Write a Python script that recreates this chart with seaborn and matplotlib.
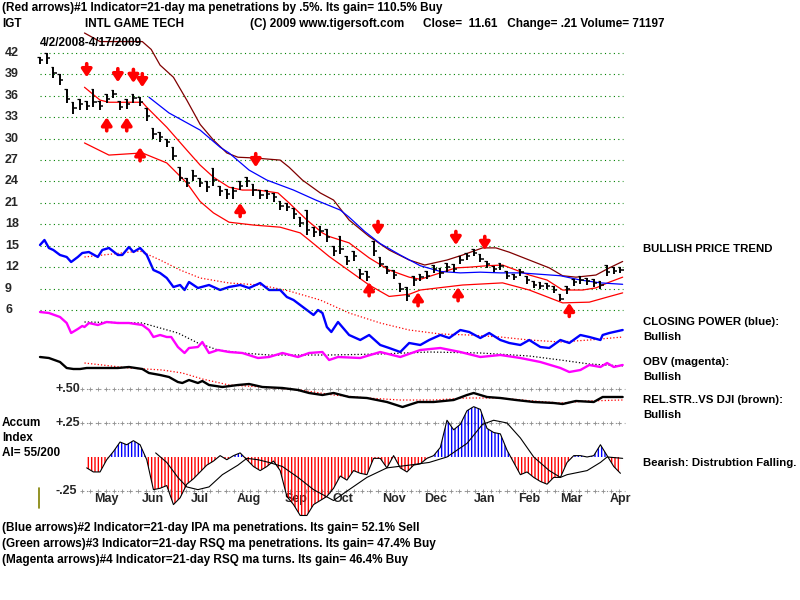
# TigerSoft style chart: IGT price bars, bands, CP / OBV / RS lines and Accum Index
import numpy as np
import matplotlib
matplotlib.use("Agg")
import matplotlib.pyplot as plt
import matplotlib.transforms as mtransforms
import seaborn as sns

# -------------------------------------------------------------------
# data (trading-day index from 4/2/2008)
# -------------------------------------------------------------------
bar_day = list(range(0, 262, 3))
close = [41.0, 41.3, 39.2, 38.2, 35.5, 34.3, 34.8, 34.6, 35.2, 34.6,
         35.6, 36.3, 34.5, 34.8, 35.7, 35.2, 33.2, 30.6, 30.2, 29.5,
         27.6, 24.5, 23.8, 24.8, 23.8, 23.2, 24.2, 22.6, 22.3, 22.6,
         23.4, 24.0, 22.8, 22.1, 22.2, 21.8, 20.6, 20.4, 19.5, 18.2,
         17.2, 16.9, 17.1, 16.2, 14.2, 14.6, 12.9, 13.6, 11.0, 10.6,
         14.2, 12.5, 11.5, 10.9, 9.0, 8.0, 10.2, 10.6, 10.8, 11.8,
         11.2, 12.0, 11.8, 13.0, 13.5, 14.0, 13.2, 12.4, 11.8, 12.1,
         10.8, 10.6, 11.3, 10.2, 9.5, 9.4, 9.3, 8.8, 7.6, 8.9,
         9.9, 10.2, 10.0, 9.8, 9.5, 11.3, 11.5, 11.6]
high = [41.5, 42.0, 40.0, 39.0, 37.0, 35.2, 35.5, 35.3, 37.0, 35.3,
        36.2, 36.8, 35.3, 35.5, 36.2, 35.8, 34.3, 31.5, 31.0, 30.0,
        28.8, 26.0, 24.5, 25.6, 24.5, 24.0, 25.9, 23.4, 23.0, 23.2,
        24.0, 24.6, 23.6, 22.8, 22.8, 22.4, 21.3, 21.0, 20.3, 19.0,
        20.0, 17.6, 17.8, 17.3, 15.0, 16.3, 13.6, 14.2, 11.8, 11.4,
        15.6, 13.4, 12.2, 11.6, 9.8, 9.2, 10.8, 11.1, 11.4, 12.3,
        11.9, 12.6, 12.4, 13.5, 14.0, 14.5, 13.9, 12.9, 12.2, 12.6,
        11.4, 11.1, 11.8, 10.8, 10.0, 9.9, 9.8, 9.3, 8.3, 9.4,
        10.4, 10.7, 10.5, 10.3, 10.0, 12.3, 12.0, 12.0]
low = [40.5, 40.5, 38.5, 37.5, 35.0, 33.5, 34.0, 34.0, 34.5, 34.0,
       35.0, 35.7, 34.0, 34.2, 35.0, 34.6, 32.5, 30.0, 29.5, 28.8,
       27.0, 24.0, 23.2, 24.0, 23.2, 22.5, 23.3, 22.0, 21.6, 21.6,
       22.8, 23.2, 22.0, 21.5, 21.6, 21.1, 20.0, 19.8, 18.8, 17.6,
       16.5, 16.2, 16.4, 15.5, 13.5, 13.8, 12.3, 12.9, 10.4, 10.0,
       13.5, 12.0, 11.0, 10.4, 8.5, 7.3, 9.4, 10.0, 10.3, 11.2,
       10.5, 11.3, 11.3, 12.4, 13.0, 13.6, 12.7, 11.9, 11.3, 11.6,
       10.3, 10.2, 10.7, 9.7, 9.1, 9.0, 8.9, 8.4, 7.2, 8.3,
       9.3, 9.7, 9.5, 9.2, 9.0, 10.7, 11.0, 11.2]

# moving average (blue) and bands
ma_day = [49, 58, 72, 81, 85, 94, 102, 114, 124, 135, 139, 146, 153, 162,
          171, 180, 189, 198, 207, 216, 225, 234, 243, 252, 262]
ma_val = [35.8, 33.6, 31.2, 28.8, 28.0, 25.6, 24.2, 22.8, 21.4, 20.0, 19.0,
          17.0, 15.3, 13.7, 12.2, 11.4, 11.2, 11.3, 11.2, 11.2, 11.0, 10.8,
          10.2, 9.8, 9.6]
upper_day = [20, 27, 46, 50, 54, 60, 66, 72, 78, 84, 89, 96, 108, 112, 118,
             126, 132, 139, 148, 157, 166, 173, 183, 190, 199, 205, 211, 220,
             229, 235, 241, 250, 256, 262]
upper_val = [44.8, 43.6, 43.6, 42.5, 40.3, 38.6, 35.4, 32.0, 29.8, 28.0, 27.4,
             27.3, 27.0, 26.0, 24.2, 22.4, 21.4, 18.6, 16.3, 14.4, 13.0, 12.3,
             13.0, 13.7, 14.7, 14.7, 14.1, 13.0, 11.9, 10.8, 10.6, 10.9, 11.9,
             12.8]
mid_day = [20, 27, 31, 46, 48, 57, 66, 72, 78, 85, 91, 98, 107, 112, 120,
           127, 130, 139, 148, 157, 166, 171, 180, 187, 193, 201, 208, 214,
           220, 228, 235, 244, 250, 256, 262]
mid_val = [37.2, 35.4, 35.1, 35.1, 34.4, 31.6, 28.4, 26.3, 24.6, 23.2, 22.8,
           22.8, 22.4, 21.0, 18.6, 16.8, 16.3, 15.4, 13.3, 11.6, 10.6, 10.3,
           11.2, 11.9, 12.0, 12.2, 12.3, 11.6, 10.9, 10.2, 8.8, 8.8, 9.1, 9.9,
           10.6]
lower_day = [20, 31, 46, 57, 66, 72, 78, 85, 96, 108, 117, 121, 130, 139,
             148, 157, 166, 171, 190, 208, 220, 235, 247, 255, 262]
lower_val = [29.4, 27.7, 28.0, 26.6, 23.8, 21.2, 19.6, 18.3, 17.9, 17.6, 16.8,
             15.8, 13.5, 11.5, 9.5, 7.9, 8.2, 8.8, 9.5, 9.8, 8.8, 7.0, 7.1,
             7.8, 8.4]

# signal arrows (red): sells point down, buys point up
sell_day = [21, 35, 42, 46, 97, 152, 187, 200]
sell_tip = [38.6, 37.9, 37.8, 37.2, 26.0, 16.5, 15.1, 14.4]
buy_day = [30, 39, 45, 90, 148, 170, 188, 238]
buy_tip = [33.0, 33.0, 28.8, 21.0, 9.9, 8.5, 9.2, 7.0]

# closing power (blue) and its ma, relative units
cp_day = [0, 2, 4, 6, 9, 12, 14, 17, 19, 22, 26, 28, 31, 35, 37, 40, 42, 45,
          48, 51, 54, 57, 60, 63, 65, 67, 71, 76, 81, 85, 90, 94, 99, 103,
          108, 111, 114, 117, 120, 123, 125, 127, 129, 131, 134, 139, 144,
          148, 153, 157, 162, 166, 171, 175, 180, 184, 189, 193, 198, 202,
          207, 211, 216, 220, 225, 229, 234, 238, 243, 247, 252, 253, 256, 262]
cp_val = [87.5, 90, 86, 85, 82.5, 81.5, 79, 81.5, 83.5, 84, 81.5, 85, 86,
          82.5, 82.5, 86.5, 84, 86, 82.5, 75, 73.5, 71, 66.5, 67.5, 65, 69,
          66, 67.5, 65, 66.5, 67.5, 66, 68.5, 65, 65, 61.5, 60, 57.5, 55,
          52.5, 55, 53.5, 46.5, 44, 49, 42.5, 40, 42.5, 37.5, 36, 34, 38.5,
          37.5, 40, 42.5, 41, 45, 44, 41, 43.5, 40, 38.5, 37.5, 40, 36.5, 36,
          40, 38.5, 42.5, 41.5, 40, 42.5, 43.5, 45]
cp_ma_day = [20, 45, 54, 63, 72, 85, 99, 112, 126, 139, 153, 166, 180, 193,
             207, 220, 234, 247, 262]
cp_ma_val = [81.5, 84.5, 80, 75, 71, 68.5, 67.5, 64.5, 60, 53.5, 48.5, 45,
             43, 42.5, 41.5, 40, 39, 40, 41.5]

# on balance volume (magenta) and its ma
obv_day = [0, 4, 9, 12, 14, 17, 19, 20, 22, 26, 30, 35, 40, 46, 49, 51, 54,
           57, 59, 62, 65, 67, 71, 73, 76, 80, 85, 91, 98, 103, 109, 116,
           121, 127, 130, 134, 144, 153, 162, 171, 180, 189, 198, 207, 216,
           225, 234, 238, 243, 247, 252, 255, 258, 262]
obv_val = [54, 53.5, 51.5, 48.5, 43.5, 45.5, 47, 46.5, 48.5, 47.5, 49, 48.5,
           48.5, 47.5, 45, 41.5, 42.5, 41.5, 41.5, 36.5, 33.5, 36, 36.5, 39,
           33.5, 35, 34, 33.5, 31, 31.5, 33.5, 31.5, 33.5, 34, 30, 31.5, 31,
           34, 31.5, 35, 36, 34, 31.5, 32.5, 31, 29, 26, 24, 25, 27.5, 26.5,
           28.5, 26.5, 27.5]
obv_ma_day = [20, 46, 62, 71, 80, 91, 103, 130, 153, 175, 198, 220, 234, 247,
              262]
obv_ma_val = [49, 48.5, 43.5, 38.5, 35, 33.5, 32.5, 32.5, 33, 34, 33.5, 32,
              30, 28, 27]

# relative strength vs DJI (thick black) and its ma
rs_day = [0, 4, 9, 12, 15, 18, 21, 27, 35, 40, 46, 49, 54, 58, 62, 64, 67,
          71, 73, 76, 82, 89, 94, 100, 109, 116, 121, 127, 132, 139, 147,
          156, 163, 170, 177, 186, 192, 195, 201, 207, 214, 222, 231, 235,
          241, 249, 253, 258, 262]
rs_val = [31.5, 31, 29, 26, 25.5, 25.5, 26, 26, 26, 26.5, 25.5, 23.5, 22.5,
          21.5, 19, 18.5, 20, 18.5, 19.5, 17.5, 16.5, 17.5, 18, 16.5, 16, 15,
          13.5, 12.5, 13.5, 11.5, 11, 9, 6.5, 9, 9, 10, 12.5, 13.5, 11.5, 11,
          10, 9, 8.5, 8, 9.5, 9, 11.5, 11.5, 11.5]
rs_ma_day = [20, 40, 55, 64, 73, 85, 100, 117, 132, 147, 162, 177, 192, 207,
             222, 234, 246, 262]
rs_ma_val = [28.5, 26, 25, 23.5, 20.5, 17.5, 16.5, 15, 12.5, 11, 10, 10, 11,
             11, 9.5, 8.5, 9.5, 10]

# accumulation index (starts 5/1/2008) and its ma
ai_day = bar_day[7:]
ai_val = [-0.08, -0.11, -0.11, -0.02, 0.04, 0.11, 0.09, 0.12, 0.09, -0.02,
          -0.24, -0.23, -0.21, -0.35, -0.30, -0.20, -0.16, -0.11, -0.06, -0.03,
          0.01, -0.02, 0.01, 0.03, -0.02, -0.07, -0.10, -0.07, -0.03, -0.10,
          -0.29, -0.35, -0.43, -0.43, -0.35, -0.32, -0.29, -0.23, -0.14, -0.17,
          -0.10, -0.12, -0.13, -0.01, -0.01, -0.08, 0.01, -0.08, -0.11, -0.06,
          -0.05, -0.01, 0.01, 0.07, 0.27, 0.20, 0.24, 0.34, 0.37, 0.35,
          0.21, 0.18, 0.17, 0.05, -0.04, -0.13, -0.11, -0.15, -0.18, -0.20,
          -0.15, -0.15, -0.04, 0.01, 0.01, 0.00, 0.01, 0.09, 0.01, -0.07,
          -0.12]
ai_ma_day = [52, 57, 62, 66, 71, 76, 82, 89, 93, 98, 103, 109, 116, 123, 132,
             139, 147, 156, 166, 175, 183, 192, 199, 204, 210, 216, 222, 229,
             234, 237, 246, 252, 255, 262]
ai_ma_val = [0.03, -0.04, -0.15, -0.22, -0.24, -0.22, -0.13, -0.06, -0.01,
             -0.02, -0.04, -0.07, -0.15, -0.24, -0.32, -0.24, -0.15, -0.08,
             -0.06, -0.04, 0.0, 0.10, 0.24, 0.27, 0.25, 0.14, 0.0, -0.10,
             -0.15, -0.13, -0.10, -0.04, 0.0, -0.01]

months = ["May", "Jun", "Jul", "Aug", "Sep", "Oct", "Nov", "Dec", "Jan",
          "Feb", "Mar", "Apr"]
month_start = [21, 42, 63, 85, 106, 127, 150, 169, 191, 211, 230, 252]
price_ticks = [42, 39, 36, 33, 30, 27, 24, 21, 18, 15, 12, 9, 6]
ai_levels = [0.50, 0.25, -0.25]
ai_labels = ["+.50", "+.25", "-.25"]


# -------------------------------------------------------------------
# helpers
# -------------------------------------------------------------------
def px(x, y):
    return x / 800, 1 - y / 600


def line(ax, x, y, **kw):
    sns.lineplot(x=x, y=y, ax=ax, estimator=None, sort=False, legend=False, **kw)


def main():
    sns.set_theme(style="white")
    plt.rcParams['font.family'] = ['Liberation Sans', 'DejaVu Sans']
    plt.rcParams['hatch.linewidth'] = 1.0
    bold = dict(weight='bold', color='black', size=8.5)

    fig = plt.figure(figsize=(8, 6), dpi=100)
    fig.patch.set_facecolor('white')
    left, width = 36 / 800, 592 / 800
    xlim = (-1.8, 264.4)

    ax_a = fig.add_axes([left, 1 - 525 / 600, width, 145 / 600])
    ax_i = fig.add_axes([left, 1 - 420 / 600, width, 190 / 600])
    ax_p = fig.add_axes([left, 1 - 318 / 600, width, 288 / 600])
    for ax in (ax_a, ax_i, ax_p):
        ax.set_xlim(*xlim)
        ax.set_facecolor('none')
        ax.axis('off')
    ax_p.set_ylim(4.88, 45.22)
    ax_i.set_ylim(0, 95)
    ax_a.set_ylim(-0.50, 0.566)

    # price grid + labels
    ax_p.hlines(price_ticks, 0, 262, colors='#008000', linestyles=(0, (1, 3)), lw=0.8)
    tr = mtransforms.blended_transform_factory(fig.transFigure, ax_p.transData)
    for v in price_ticks:
        ax_p.text(5 / 800, v, str(v), transform=tr, va='center', ha='left',
                  weight='bold', size=9)

    # bands and ma
    line(ax_p, upper_day, upper_val, color='#800000', linewidth=0.9)
    line(ax_p, lower_day, lower_val, color='#ff0000', linewidth=0.9)
    line(ax_p, mid_day, mid_val, color='#ff0000', linewidth=0.9)
    line(ax_p, ma_day, ma_val, color='#0000ff', linewidth=0.9)

    # price bars
    ax_p.vlines(bar_day, low, high, colors='black', lw=1.4)
    ax_p.hlines(close, bar_day, [d + 1.5 for d in bar_day], colors='black', lw=1.1)
    ax_p.hlines(high, [d - 1.2 for d in bar_day], bar_day, colors='black', lw=0.9)

    arrow = dict(arrowstyle='-|>,head_width=0.3,head_length=0.45', color='red',
                 lw=2.6, shrinkA=0, shrinkB=0, mutation_scale=10)
    for d, p in zip(sell_day, sell_tip):
        ax_p.annotate('', xy=(d, p), xytext=(d, p + 1.9), arrowprops=arrow)
    for d, p in zip(buy_day, buy_tip):
        ax_p.annotate('', xy=(d, p), xytext=(d, p - 1.9), arrowprops=arrow)

    # indicators
    line(ax_i, cp_ma_day, cp_ma_val, color='#ff0000', linewidth=0.9, linestyle=':')
    line(ax_i, cp_day, cp_val, color='#0000ff', linewidth=1.7)
    line(ax_i, obv_ma_day, obv_ma_val, color='black', linewidth=0.9, linestyle=':')
    line(ax_i, obv_day, obv_val, color='#ff00ff', linewidth=1.7)
    line(ax_i, rs_ma_day, rs_ma_val, color='#ff0000', linewidth=0.9, linestyle=':')
    line(ax_i, rs_day, rs_val, color='black', linewidth=1.7)

    # accumulation index
    tra = mtransforms.blended_transform_factory(fig.transFigure, ax_a.transData)
    for lev, lab in zip(ai_levels, ai_labels):
        ax_a.hlines(lev, 19, 263, colors='#909090', linestyles=(0, (1, 3)), lw=0.8)
        marks = np.arange(19, 263, 3.6)
        ax_a.plot(marks, [lev] * len(marks), '+', ms=3, mew=0.6, color='#909090')
        ax_a.text(55 / 800, lev, lab, transform=tra, va='center', ha='left',
                  weight='bold', size=9)
    for m, d in zip(months, month_start):
        ax_a.text(d + 9, -0.31, m, ha='center', va='center', weight='bold',
                  size=9, zorder=1)
    ai = np.array(ai_val)
    ax_a.fill_between(ai_day, 0, ai, where=ai >= 0, interpolate=True,
                      facecolor='none', edgecolor='#0000ff', hatch='|||||',
                      linewidth=0, zorder=2)
    ax_a.fill_between(ai_day, 0, ai, where=ai <= 0, interpolate=True,
                      facecolor='none', edgecolor='#ff0000', hatch='|||||',
                      linewidth=0, zorder=2)
    line(ax_a, ai_day, ai_val, color='black', linewidth=0.8, zorder=3)
    line(ax_a, ai_ma_day, ai_ma_val, color='black', linewidth=0.8, zorder=3)

    fig.add_artist(plt.Line2D([39 / 800] * 2, [1 - 488 / 600, 1 - 508 / 600],
                              color='#808000', lw=1.2))

    # texts
    texts = [
        (2, 8, "(Red arrows)#1 Indicator=21-day ma penetrations by .5%. Its gain= 110.5% Buy"),
        (2, 24, "IGT"),
        (85, 24, "INTL GAME TECH"),
        (250, 24, "(C) 2009 www.tigersoft.com"),
        (423, 24, "Close=  11.61   Change= .21 Volume= 71197"),
        (40, 43, "4/2/2008-4/17/2009"),
        (2, 423, "Accum"),
        (2, 438, "Index"),
        (2, 453, "AI= 55/200"),
        (2, 528, "(Blue arrows)#2 Indicator=21-day IPA ma penetrations. Its gain= 52.1% Sell"),
        (2, 544, "(Green arrows)#3 Indicator=21-day RSQ ma penetrations. Its gain= 47.4% Buy"),
        (2, 560, "(Magenta arrows)#4 Indicator=21-day RSQ ma turns. Its gain= 46.4% Buy"),
    ]
    side = [
        (643, 249, "BULLISH PRICE TREND"),
        (643, 322, "CLOSING POWER (blue):"),
        (643, 337, "Bullish"),
        (643, 362, "OBV (magenta):"),
        (643, 377, "Bullish"),
        (643, 400, "REL.STR..VS DJI (brown):"),
        (643, 415, "Bullish"),
        (643, 463, "Bearish: Distrubtion Falling."),
    ]
    for x, y, s in texts:
        fx, fy = px(x, y)
        fig.text(fx, fy, s, ha='left', va='center', **bold)
    for x, y, s in side:
        fx, fy = px(x, y)
        fig.text(fx, fy, s, ha='left', va='center', weight='bold', color='black',
                 size=8.2)

    fig.savefig("out.png", dpi=100, facecolor='white')


if __name__ == '__main__':
    main()
